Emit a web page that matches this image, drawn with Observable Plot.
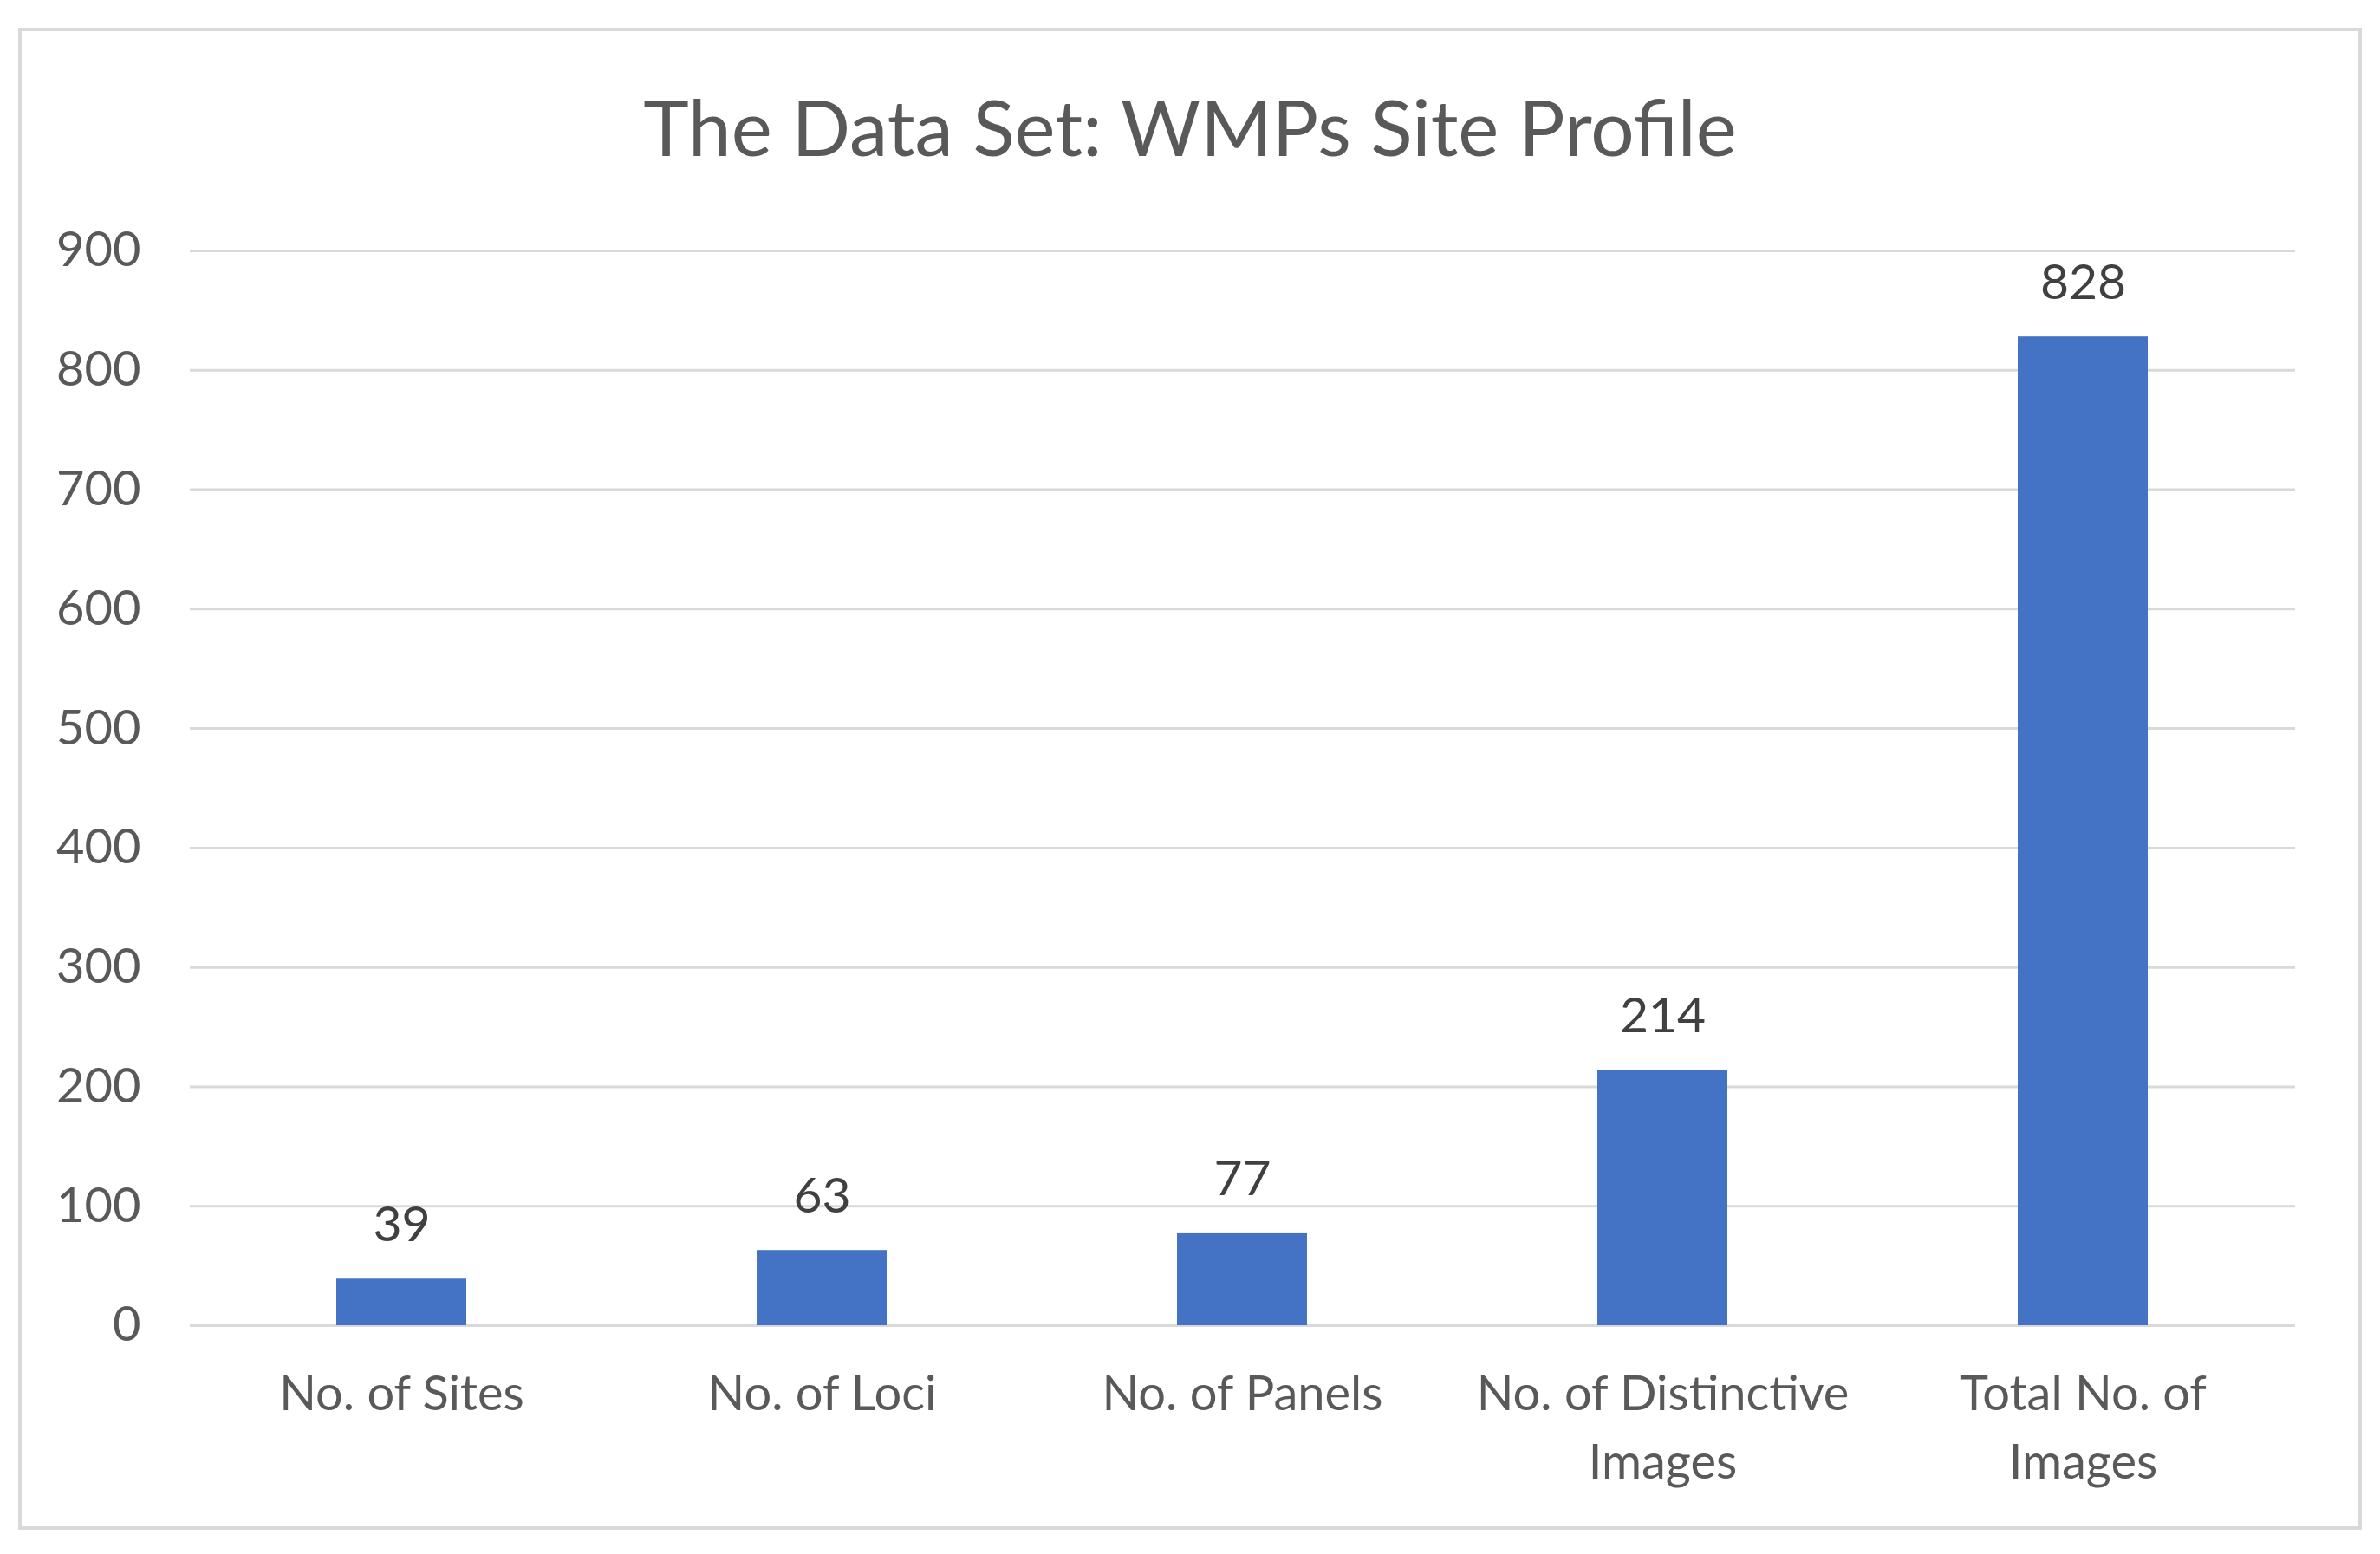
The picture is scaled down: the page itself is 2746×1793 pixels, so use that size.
<!DOCTYPE html>
<html>
<head>
<meta charset="utf-8">
<script src="https://cdn.jsdelivr.net/npm/d3@7"></script>
<script src="https://cdn.jsdelivr.net/npm/@observablehq/plot@0.6"></script>
<style>
  html, body { margin: 0; padding: 0; background: #ffffff; overflow: hidden; }
  #wrap { position: relative; width: 2746px; height: 1793px; background: #ffffff; }
  #frame { position: absolute; left: 21px; top: 32px; width: 2704px; height: 1733px; box-sizing: border-box; border: 4px solid #d9d9d9; }
  #title { position: absolute; left: 0; top: 101px; width: 2746px; text-align: center; font-family: Lato, sans-serif; font-size: 89px; line-height: 1; color: #595959; }
  #chart { position: absolute; left: 0; top: 0; }
</style>
</head>
<body>
<div id="wrap">
  <div id="frame"></div>
  <div id="title">The Data Set: WMPs Site Profile</div>
  <div id="chart"></div>
</div>
<script>
const categories = ["No. of Sites", "No. of Loci", "No. of Panels", "No. of Distinctive Images", "Total No. of Images"];
const values = [39, 63, 77, 214, 828];
const tickLabels = ["No. of Sites", "No. of Loci", "No. of Panels", "No. of Distinctive\nImages", "Total No. of\nImages"];
const yTicks = [0, 100, 200, 300, 400, 500, 600, 700, 800, 900];

const data = categories.map((c, i) => ({category: c, value: values[i]}));

const chart = Plot.plot({
  width: 2746,
  height: 1793,
  marginLeft: 219,
  marginRight: 98,
  marginTop: 289,
  marginBottom: 264,
  style: {fontFamily: "Lato, sans-serif", color: "#595959", background: "transparent", overflow: "visible"},
  x: {domain: categories, paddingInner: 0.69, paddingOuter: 0.345, label: null},
  y: {domain: [0, 900], label: null},
  marks: [
    Plot.ruleY(yTicks, {stroke: "#d9d9d9", strokeWidth: 3}),
    Plot.barY(data, {x: "category", y: "value", fill: "#4472C4"}),
    Plot.text(data, {x: "category", y: "value", text: d => String(d.value), dy: -44, lineAnchor: "bottom", fontSize: 57, fill: "#404040"}),
    Plot.axisY({ticks: yTicks, tickSize: 0, tickPadding: 57, fontSize: 56, label: null, fill: "#595959"}),
    Plot.axisX({tickSize: 0, tickPadding: 42, fontSize: 56, lineHeight: 1.4, label: null, fill: "#595959",
      tickFormat: d => tickLabels[categories.indexOf(d)]})
  ]
});
document.getElementById("chart").appendChild(chart);
</script>
</body>
</html>
